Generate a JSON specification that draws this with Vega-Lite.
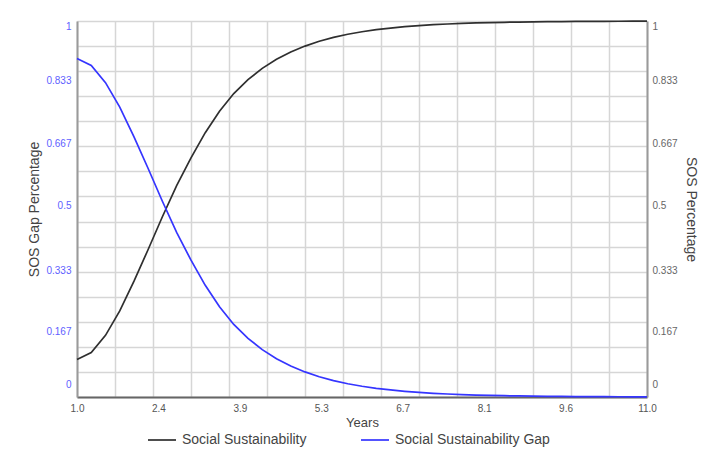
{
  "$schema": "https://vega.github.io/schema/vega-lite/v6.json",
  "width": 570,
  "height": 376,
  "autosize": {"type": "none"},
  "padding": {"left": 77, "top": 21, "right": 78, "bottom": 64},
  "background": "white",
  "config": {
    "font": "Liberation Sans",
    "view": {"stroke": null},
    "axis": {"labelFont": "Liberation Sans", "titleFont": "Liberation Sans", "titleFontWeight": "normal"}
  },
  "data": {
    "values": [
      {"year": 1.00, "series": "Social Sustainability", "value": 0.100},
      {"year": 1.25, "series": "Social Sustainability", "value": 0.118},
      {"year": 1.50, "series": "Social Sustainability", "value": 0.164},
      {"year": 1.75, "series": "Social Sustainability", "value": 0.229},
      {"year": 2.00, "series": "Social Sustainability", "value": 0.308},
      {"year": 2.25, "series": "Social Sustainability", "value": 0.393},
      {"year": 2.50, "series": "Social Sustainability", "value": 0.480},
      {"year": 2.75, "series": "Social Sustainability", "value": 0.563},
      {"year": 3.00, "series": "Social Sustainability", "value": 0.636},
      {"year": 3.25, "series": "Social Sustainability", "value": 0.703},
      {"year": 3.50, "series": "Social Sustainability", "value": 0.760},
      {"year": 3.75, "series": "Social Sustainability", "value": 0.807},
      {"year": 4.00, "series": "Social Sustainability", "value": 0.844},
      {"year": 4.25, "series": "Social Sustainability", "value": 0.874},
      {"year": 4.50, "series": "Social Sustainability", "value": 0.898},
      {"year": 4.75, "series": "Social Sustainability", "value": 0.9175},
      {"year": 5.00, "series": "Social Sustainability", "value": 0.9333},
      {"year": 5.25, "series": "Social Sustainability", "value": 0.946},
      {"year": 5.50, "series": "Social Sustainability", "value": 0.9563},
      {"year": 5.75, "series": "Social Sustainability", "value": 0.9647},
      {"year": 6.00, "series": "Social Sustainability", "value": 0.9714},
      {"year": 6.25, "series": "Social Sustainability", "value": 0.9769},
      {"year": 6.50, "series": "Social Sustainability", "value": 0.9813},
      {"year": 6.75, "series": "Social Sustainability", "value": 0.9849},
      {"year": 7.00, "series": "Social Sustainability", "value": 0.9878},
      {"year": 7.25, "series": "Social Sustainability", "value": 0.9901},
      {"year": 7.50, "series": "Social Sustainability", "value": 0.9920},
      {"year": 7.75, "series": "Social Sustainability", "value": 0.9935},
      {"year": 8.00, "series": "Social Sustainability", "value": 0.9948},
      {"year": 8.25, "series": "Social Sustainability", "value": 0.9958},
      {"year": 8.50, "series": "Social Sustainability", "value": 0.9966},
      {"year": 8.75, "series": "Social Sustainability", "value": 0.9972},
      {"year": 9.00, "series": "Social Sustainability", "value": 0.9978},
      {"year": 9.25, "series": "Social Sustainability", "value": 0.9982},
      {"year": 9.50, "series": "Social Sustainability", "value": 0.9985},
      {"year": 9.75, "series": "Social Sustainability", "value": 0.9988},
      {"year": 10.00, "series": "Social Sustainability", "value": 0.9990},
      {"year": 10.25, "series": "Social Sustainability", "value": 0.9992},
      {"year": 10.50, "series": "Social Sustainability", "value": 0.9994},
      {"year": 10.75, "series": "Social Sustainability", "value": 0.9995},
      {"year": 11.00, "series": "Social Sustainability", "value": 0.9996},
      {"year": 1.00, "series": "Social Sustainability Gap", "value": 0.900},
      {"year": 1.25, "series": "Social Sustainability Gap", "value": 0.882},
      {"year": 1.50, "series": "Social Sustainability Gap", "value": 0.836},
      {"year": 1.75, "series": "Social Sustainability Gap", "value": 0.771},
      {"year": 2.00, "series": "Social Sustainability Gap", "value": 0.692},
      {"year": 2.25, "series": "Social Sustainability Gap", "value": 0.607},
      {"year": 2.50, "series": "Social Sustainability Gap", "value": 0.520},
      {"year": 2.75, "series": "Social Sustainability Gap", "value": 0.437},
      {"year": 3.00, "series": "Social Sustainability Gap", "value": 0.364},
      {"year": 3.25, "series": "Social Sustainability Gap", "value": 0.297},
      {"year": 3.50, "series": "Social Sustainability Gap", "value": 0.240},
      {"year": 3.75, "series": "Social Sustainability Gap", "value": 0.193},
      {"year": 4.00, "series": "Social Sustainability Gap", "value": 0.156},
      {"year": 4.25, "series": "Social Sustainability Gap", "value": 0.126},
      {"year": 4.50, "series": "Social Sustainability Gap", "value": 0.102},
      {"year": 4.75, "series": "Social Sustainability Gap", "value": 0.0825},
      {"year": 5.00, "series": "Social Sustainability Gap", "value": 0.0667},
      {"year": 5.25, "series": "Social Sustainability Gap", "value": 0.054},
      {"year": 5.50, "series": "Social Sustainability Gap", "value": 0.0437},
      {"year": 5.75, "series": "Social Sustainability Gap", "value": 0.0353},
      {"year": 6.00, "series": "Social Sustainability Gap", "value": 0.0286},
      {"year": 6.25, "series": "Social Sustainability Gap", "value": 0.0231},
      {"year": 6.50, "series": "Social Sustainability Gap", "value": 0.0187},
      {"year": 6.75, "series": "Social Sustainability Gap", "value": 0.0151},
      {"year": 7.00, "series": "Social Sustainability Gap", "value": 0.0122},
      {"year": 7.25, "series": "Social Sustainability Gap", "value": 0.0099},
      {"year": 7.50, "series": "Social Sustainability Gap", "value": 0.0080},
      {"year": 7.75, "series": "Social Sustainability Gap", "value": 0.0065},
      {"year": 8.00, "series": "Social Sustainability Gap", "value": 0.0052},
      {"year": 8.25, "series": "Social Sustainability Gap", "value": 0.0042},
      {"year": 8.50, "series": "Social Sustainability Gap", "value": 0.0034},
      {"year": 8.75, "series": "Social Sustainability Gap", "value": 0.0028},
      {"year": 9.00, "series": "Social Sustainability Gap", "value": 0.0022},
      {"year": 9.25, "series": "Social Sustainability Gap", "value": 0.0018},
      {"year": 9.50, "series": "Social Sustainability Gap", "value": 0.0015},
      {"year": 9.75, "series": "Social Sustainability Gap", "value": 0.0012},
      {"year": 10.00, "series": "Social Sustainability Gap", "value": 0.0010},
      {"year": 10.25, "series": "Social Sustainability Gap", "value": 0.0008},
      {"year": 10.50, "series": "Social Sustainability Gap", "value": 0.0006},
      {"year": 10.75, "series": "Social Sustainability Gap", "value": 0.0005},
      {"year": 11.00, "series": "Social Sustainability Gap", "value": 0.0004}
    ]
  },
  "resolve": {"axis": {"x": "independent", "y": "independent"}},
  "layer": [
    {
      "mark": {"type": "line", "opacity": 0},
      "encoding": {
        "detail": {"field": "series"},
        "x": {
          "field": "year", "type": "quantitative",
          "scale": {"domain": [1, 11], "nice": false, "zero": false},
          "axis": {
            "orient": "bottom",
            "values": [1, 1.6667, 2.3333, 3, 3.6667, 4.3333, 5, 5.6667, 6.3333, 7, 7.6667, 8.3333, 9, 9.6667, 10.3333, 11],
            "labels": false, "ticks": false, "domain": false, "title": null,
            "grid": true, "gridColor": "#d6d6d6", "gridWidth": 1.5
          }
        },
        "y": {
          "field": "value", "type": "quantitative",
          "scale": {"domain": [0, 1], "nice": false, "zero": false},
          "axis": {
            "orient": "left",
            "values": [0, 0.0667, 0.1333, 0.2, 0.2667, 0.3333, 0.4, 0.4667, 0.5333, 0.6, 0.6667, 0.7333, 0.8, 0.8667, 0.9333, 1],
            "labels": false, "ticks": false, "domain": false, "title": null,
            "grid": true, "gridColor": "#d6d6d6", "gridWidth": 1.5
          }
        }
      }
    },
    {
      "mark": {"type": "line", "opacity": 0},
      "encoding": {
        "detail": {"field": "series"},
        "x": {"field": "year", "type": "quantitative", "axis": null},
        "y": {
          "field": "value", "type": "quantitative",
          "axis": {
            "orient": "right",
            "values": [0.033, 0.1747, 0.337, 0.5098, 0.6755, 0.8415, 0.9867],
            "labelExpr": "datum.value < 0.1 ? '0' : datum.value < 0.25 ? '0.167' : datum.value < 0.42 ? '0.333' : datum.value < 0.59 ? '0.5' : datum.value < 0.76 ? '0.667' : datum.value < 0.9 ? '0.833' : '1'",
            "labelBaseline": "middle", "labelFontSize": 10, "labelColor": "#666666", "labelPadding": 5, "labelOverlap": false, "labelFlush": false,
            "ticks": false, "grid": false,
            "domain": true, "domainColor": "#9a9a9a", "domainWidth": 2,
            "title": "SOS Percentage", "titleFontSize": 14, "titleColor": "#444444", "titlePadding": 6
          }
        }
      }
    },
    {
      "mark": {"type": "line", "strokeWidth": 1.7},
      "encoding": {
        "x": {
          "field": "year", "type": "quantitative",
          "axis": {
            "orient": "bottom",
            "values": [1, 2.428571, 3.857143, 5.285714, 6.714286, 8.142857, 9.571429, 11],
            "format": ".1f", "labelFlush": false, "labelOverlap": false,
            "labelFontSize": 10, "labelColor": "#555555", "labelPadding": 6,
            "ticks": false, "grid": false,
            "domain": true, "domainColor": "#666666", "domainWidth": 2,
            "title": "Years", "titleFontSize": 13, "titleColor": "#444444", "titlePadding": 3
          }
        },
        "y": {
          "field": "value", "type": "quantitative",
          "axis": {
            "orient": "left",
            "values": [0.033, 0.1747, 0.337, 0.5098, 0.6755, 0.8415, 0.9867],
            "labelExpr": "datum.value < 0.1 ? '0' : datum.value < 0.25 ? '0.167' : datum.value < 0.42 ? '0.333' : datum.value < 0.59 ? '0.5' : datum.value < 0.76 ? '0.667' : datum.value < 0.9 ? '0.833' : '1'",
            "labelBaseline": "middle", "labelFontSize": 10, "labelColor": "#5f5fff", "labelPadding": 6, "labelOverlap": false, "labelFlush": false,
            "ticks": false, "grid": false,
            "domain": true, "domainColor": "#9a9a9a", "domainWidth": 2,
            "title": "SOS Gap Percentage", "titleFontSize": 14, "titleColor": "#444444", "titlePadding": 4
          }
        },
        "color": {
          "field": "series", "type": "nominal",
          "scale": {"domain": ["Social Sustainability", "Social Sustainability Gap"], "range": ["#2f2f2f", "#3535ff"]},
          "legend": {
            "orient": "none", "legendX": 70, "legendY": 404, "direction": "horizontal",
            "title": null, "padding": 0, "symbolType": "stroke", "symbolSize": 784, "symbolStrokeWidth": 1.7,
            "labelFontSize": 14, "labelColor": "#444444", "labelFont": "Liberation Sans", "labelOffset": 5,
            "columnPadding": 50, "labelLimit": 300
          }
        }
      }
    }
  ]
}
